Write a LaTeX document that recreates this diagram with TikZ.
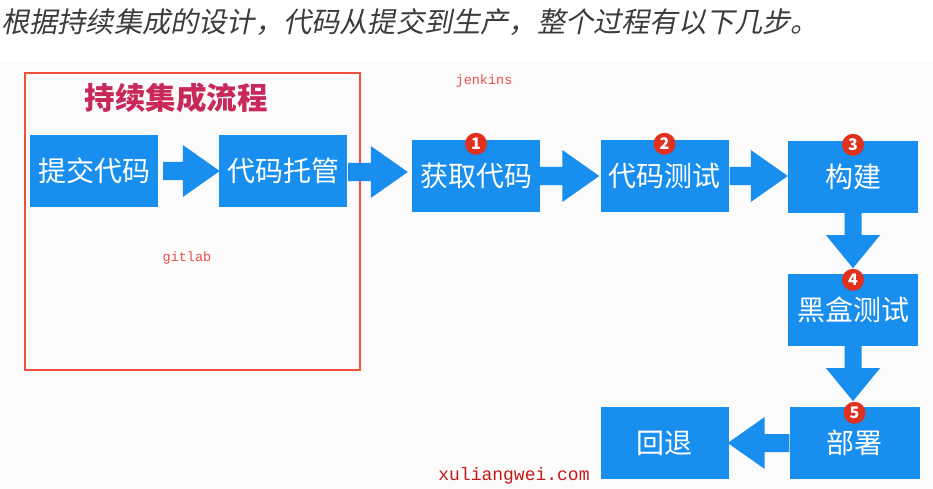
\documentclass[tikz,border=0pt]{standalone}
\usepackage{fontspec}
\usetikzlibrary{calc}
\newfontfamily\cjk{Noto Sans CJK SC}
\newfontfamily\cjkslant[FakeSlant=0.2]{Noto Sans CJK SC}
\newfontfamily\mono{Liberation Mono}
\definecolor{boxblue}{RGB}{24,142,238}
\definecolor{badgered}{RGB}{226,48,30}
\definecolor{titlered}{RGB}{200,40,90}
\definecolor{framered}{RGB}{240,80,60}
\definecolor{labred}{RGB}{232,80,74}
\definecolor{headgray}{RGB}{60,60,60}
\tikzset{
  stepbox/.style={fill=boxblue, minimum width=128pt, minimum height=72pt, inner sep=0pt,
    text=white, font=\cjk\fontsize{28}{28}\selectfont},
  badge/.style={circle, fill=badgered, minimum size=22pt, inner sep=0pt, text=white,
    font=\cjk\bfseries\fontsize{16}{16}\selectfont},
  lab/.style={text=labred, font=\mono\fontsize{13.5}{13.5}\selectfont, inner sep=0pt},
}
% horizontal block arrow: start, tip
\newcommand\hblock[2]{%
  \fill[boxblue] let \p1=#1, \p2=#2, \n1={\x2>\x1 ? 1 : -1} in
    (\x1,\y1+9) -- (\x2-\n1*37,\y1+9) -- (\x2-\n1*37,\y1+26) -- (\x2,\y1)
    -- (\x2-\n1*37,\y1-26) -- (\x2-\n1*37,\y1-9) -- (\x1,\y1-9) -- cycle;}
% vertical (downward) block arrow: start, tip
\newcommand\vblock[2]{%
  \fill[boxblue] let \p1=#1, \p2=#2 in
    (\x1-8.5,\y1) -- (\x1-8.5,\y2+33) -- (\x1-27,\y2+33) -- (\x1,\y2)
    -- (\x1+27,\y2+33) -- (\x1+8.5,\y2+33) -- (\x1+8.5,\y1) -- cycle;}
\begin{document}
\begin{tikzpicture}[x=1pt,y=-1pt]
\useasboundingbox (0,0) rectangle (933,489);
\fill[white] (0,0) rectangle (933,489);
\fill[gray!3] (0,62) rectangle (933,489);
\node[anchor=west, inner sep=0pt, text=headgray, font=\cjkslant\fontsize{28.2}{28.2}\selectfont] (head) at (1,22)
  {根据持续集成的设计，代码从提交到生产，整个过程有以下几步。};
\node[draw=framered, line width=1.8pt, minimum width=335pt, minimum height=297pt, inner sep=0pt] (frame) at (192.5,221.5) {};
\node[text=titlered, font=\cjk\bfseries\fontsize{30.5}{30.5}\selectfont, inner sep=0pt] (title) at (176,98) {持续集成流程};
\node[stepbox] (b1) at (94,171) {提交代码};
\node[stepbox] (b2) at (283,171) {代码托管};
\node[stepbox] (b3) at (476,176) {获取代码};
\node[stepbox] (b4) at (664.5,176) {代码测试};
\node[stepbox, minimum width=130pt] (b5) at (853,177) {构建};
\node[stepbox, minimum width=130pt] (b6) at (853,310) {黑盒测试};
\node[stepbox, minimum width=130pt] (b7) at (854.5,443) {部署};
\node[stepbox] (b8) at (664.5,443) {回退};
\hblock{($(b1.east)+(5,0)$)}{($(b2.west)+(1,0)$)}
\hblock{($(b2.east)+(1,1)$)}{($(b3.west)+(-4,1)$)}
\hblock{(b3.east)}{($(b4.west)+(-1,0)$)}
\hblock{($(b4.east)+(1,0)$)}{(b5.west)}
\vblock{(b5.south)}{($(b5.south)+(0,55)$)}
\vblock{(b6.south)}{($(b6.south)+(0,55)$)}
\hblock{(b7.west)}{($(b8.east)+(-1,0)$)}
\node[badge] (n1) at ($(b3.north)+(0,4)$) {1};
\node[badge] (n2) at ($(b4.north)+(0,4)$) {2};
\node[badge] (n3) at ($(b5.north)+(0,4)$) {3};
\node[badge] (n4) at ($(b6.north)+(0,6)$) {4};
\node[badge] (n5) at ($(b7.north)+(0,6)$) {5};
\node[lab] (jen) at (484,81) {jenkins};
\node[lab] (git) at (187,258) {gitlab};
\node[lab, text=red!75!black!90, font=\mono\fontsize{18}{18}\selectfont] (site) at (514,476) {xuliangwei.com};
\end{tikzpicture}
\end{document}
